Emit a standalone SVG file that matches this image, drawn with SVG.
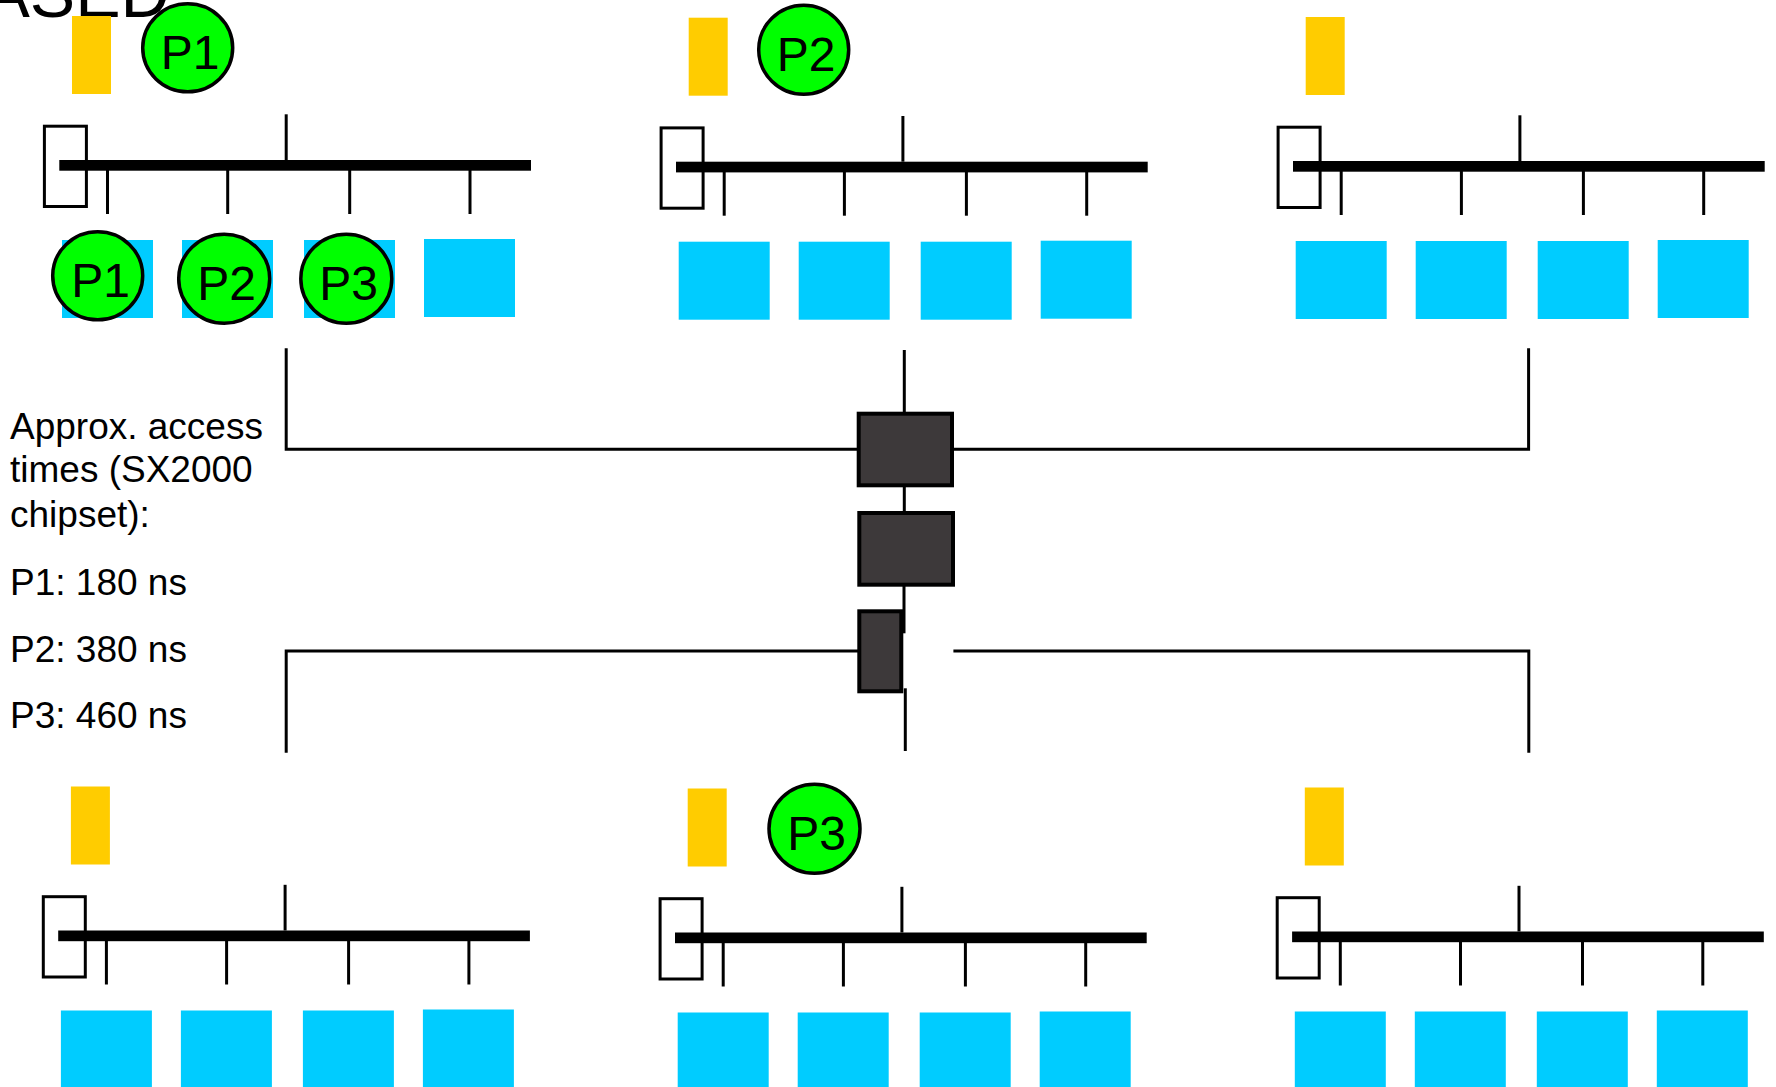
<svg xmlns="http://www.w3.org/2000/svg" width="1776" height="1087" viewBox="0 0 1776 1087">
<style>
.cache{fill:#ffcc00}
.ctrl{fill:none;stroke:#000;stroke-width:3}
.bus{fill:#000}
.tick{stroke:#000;stroke-width:3}
.mem{fill:#00ccff}
.proc{fill:#00ff00;stroke:#000;stroke-width:3.5}
.plabel{font-family:"Liberation Sans",Arial,sans-serif;font-size:48px;fill:#000;text-anchor:middle}
.router{fill:#3d393a;stroke:#000;stroke-width:4}
.conn{fill:none;stroke:#000;stroke-width:3}
.note{font-family:"Liberation Sans",Arial,sans-serif;font-size:37px;fill:#000}
</style>
<defs>
<g id="module">
<rect class="cache" x="72" y="16" width="39" height="78"/>
<rect class="ctrl" x="44.4" y="126.2" width="42" height="80.3"/>
<rect class="bus" x="59.3" y="160" width="471.7" height="10.7"/>
<line class="tick" x1="286.2" y1="114.3" x2="286.2" y2="160"/>
<line class="tick" x1="107.5" y1="170" x2="107.5" y2="214"/>
<line class="tick" x1="227.7" y1="170" x2="227.7" y2="214"/>
<line class="tick" x1="349.7" y1="170" x2="349.7" y2="214"/>
<line class="tick" x1="470" y1="170" x2="470" y2="214"/>
<rect class="mem" x="62" y="240" width="91" height="78"/>
<rect class="mem" x="182" y="240" width="91" height="78"/>
<rect class="mem" x="304" y="240" width="91" height="78"/>
<rect class="mem" x="424" y="239" width="91" height="78"/>
</g>
</defs>
<rect width="1776" height="1087" fill="#fff"/>
<text x="-15.5" y="17" font-family="Liberation Sans, Arial, sans-serif" font-size="68">ASED</text>

<g id="module-top-left"><use href="#module"/></g>
<g id="module-top-middle"><use href="#module" transform="translate(616.7,1.7)"/></g>
<g id="module-top-right"><use href="#module" transform="translate(1233.7,1)"/></g>
<g id="module-bottom-left"><use href="#module" transform="translate(-1.1,770.5)"/></g>
<g id="module-bottom-middle"><use href="#module" transform="translate(615.7,772.5)"/></g>
<g id="module-bottom-right"><use href="#module" transform="translate(1232.8,771.5)"/></g>

<g id="connectors">
<path class="conn" d="M286.2 348.3 V449.3 H862.7"/>
<path class="conn" d="M953.6 449.3 H1528.6 V348.3"/>
<path class="conn" d="M904.3 350 V413"/>
<path class="conn" d="M904.3 487 V512"/>
<path class="conn" d="M904 586 V633.3"/>
<path class="conn" d="M286.2 752.7 V651 H862.7"/>
<path class="conn" d="M953.4 651 H1528.8 V752.7"/>
<path class="conn" d="M905.3 688.3 V751"/>
</g>

<g id="router-1"><rect class="router" x="858.7" y="413.7" width="93.3" height="71.6"/></g>
<g id="router-2"><rect class="router" x="859.3" y="513" width="93.7" height="71.7"/></g>
<g id="router-3"><rect class="router" x="859.3" y="611.3" width="42" height="80"/></g>

<g id="proc-p1-top"><ellipse class="proc" cx="187.7" cy="47.8" rx="45" ry="44"/><text class="plabel" x="190" y="68.5">P1</text></g>
<g id="proc-p2-top"><ellipse class="proc" cx="803.7" cy="49.8" rx="45" ry="44.5"/><text class="plabel" x="806" y="70.5">P2</text></g>
<g id="proc-p1-mem"><ellipse class="proc" cx="97.7" cy="275.8" rx="45" ry="44"/><text class="plabel" x="100.5" y="296.7">P1</text></g>
<g id="proc-p2-mem"><ellipse class="proc" cx="224.2" cy="278.8" rx="45.5" ry="44.5"/><text class="plabel" x="226.5" y="299.7">P2</text></g>
<g id="proc-p3-mem"><ellipse class="proc" cx="346.3" cy="278.8" rx="45.5" ry="44.5"/><text class="plabel" x="348.5" y="299.7">P3</text></g>
<g id="proc-p3-bottom"><ellipse class="proc" cx="814.5" cy="828.8" rx="45.5" ry="44.5"/><text class="plabel" x="816.5" y="849.5">P3</text></g>

<g id="note">
<text class="note" x="10" y="438.5">Approx. access</text>
<text class="note" x="10" y="482">times (SX2000</text>
<text class="note" x="10" y="527">chipset):</text>
<text class="note" x="10" y="595">P1: 180 ns</text>
<text class="note" x="10" y="661.5">P2: 380 ns</text>
<text class="note" x="10" y="728">P3: 460 ns</text>
</g>
</svg>
